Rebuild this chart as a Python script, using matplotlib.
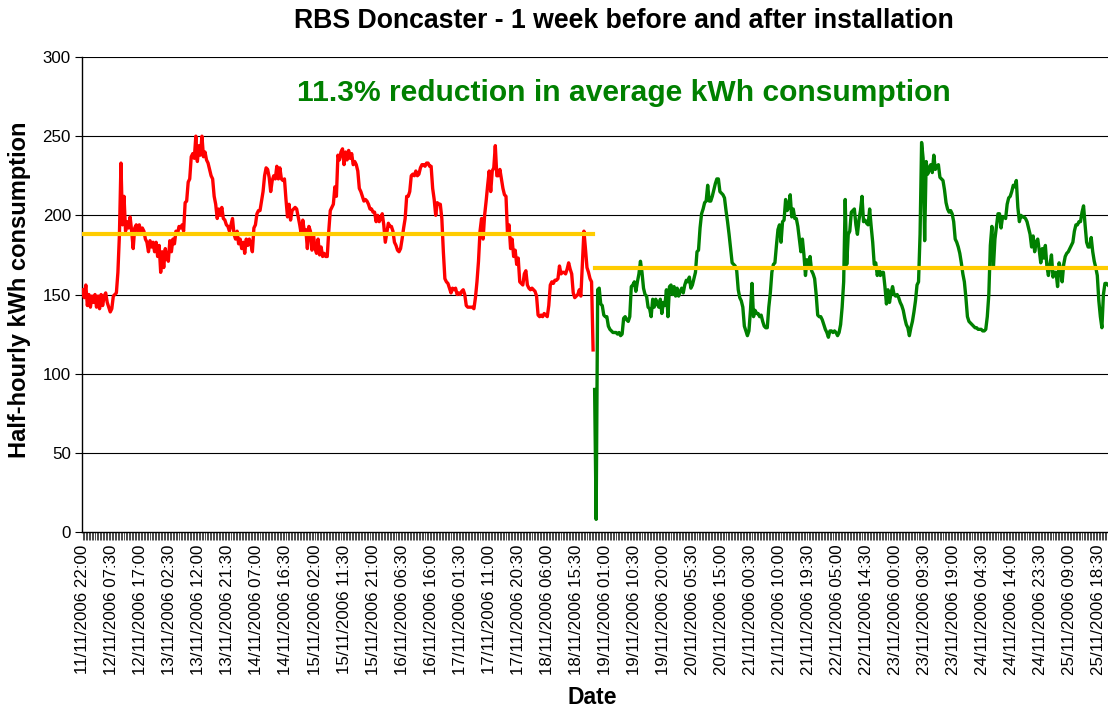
import matplotlib
matplotlib.use("Agg")
import matplotlib.pyplot as plt
import numpy as np
import pandas as pd

plt.rcParams['font.family'] = ['Liberation Sans', 'DejaVu Sans']

# ---- data -------------------------------------------------------------
categories = pd.date_range("2006-11-11 22:00", periods=672, freq="30min")

before = [
    153,148,156,143,150,142,149,145,150,142,149,141,150,143,149,151,145,142,139,141,149,150,151,
    164,188,233,194,212,190,196,192,199,190,179,192,194,190,194,189,192,190,
    185,183,177,184,180,183,177,183,174,181,164,177,167,179,173,171,184,177,185,182,
    190,188,193,192,194,190,208,209,221,223,237,239,236,250,234,244,238,250,237,240,
    235,233,229,225,223,212,207,198,204,200,205,198,197,194,193,190,194,198,188,185,
    190,182,185,179,183,176,185,181,185,182,177,192,
    194,201,203,203,209,215,225,230,229,224,215,222,225,223,231,223,230,223,222,223,
    210,199,207,197,203,204,205,204,199,194,188,197,190,191,179,193,190,178,188,179,
    176,185,175,180,174,176,174,174,190,203,205,207,218,212,238,235,240,242,232,240,
    235,241,236,239,232,234,232,228,217,215,212,209,210,209,207,204,204,202,202,196,
    200,196,198,201,194,183,189,195,193,193,190,183,181,178,177,179,185,192,198,212,
    212,215,225,226,225,228,225,226,230,232,
    232,231,233,233,231,231,217,210,200,208,207,207,198,177,160,158,157,154,151,154,
    153,154,150,151,150,152,153,150,143,142,142,142,142,141,148,158,171,190,198,185,
    200,209,219,228,215,228,230,244,225,225,229,223,217,213,212,188,194,179,185,174,
    178,169,173,158,157,156,163,165,156,154,153,154,153,152,149,137,136,137,136,138,
    137,136,143,156,158,157,159,159,160,168,163,164,164,163,166,170,166,163,151,148,
    149,150,153,149,169,190,179,167,164,160,158,115,
]

after = [
    90, 8, 153,
    154,144,143,137,136,136,130,128,127,126,126,126,125,126,124,125,135,136,134,133,
    136,155,156,158,152,158,163,171,164,154,150,149,142,141,136,147,142,147,144,142,
    147,138,145,143,153,136,155,156,150,155,149,154,149,152,154,151,156,159,158,161,
    154,156,160,164,177,178,192,201,204,208,209,219,209,209,212,216,220,223,223,215,
    214,213,211,203,196,188,179,170,169,168,165,153,148,146,142,130,127,124,127,140,
    157,136,140,138,138,136,137,133,130,
    129,129,142,151,164,169,170,181,191,194,183,196,197,210,203,205,213,199,204,198,
    198,193,185,177,185,175,162,172,168,174,165,163,160,150,137,136,136,134,131,128,
    126,123,127,127,126,127,126,124,126,131,142,158,210,169,188,190,202,203,204,194,
    188,197,203,212,196,197,195,194,204,193,183,169,170,162,167,162,164,164,155,144,
    153,145,151,155,150,149,150,148,145,143,140,135,131,129,124,129,133,139,146,156,
    158,188,246,236,184,234,226,
    230,232,227,238,229,231,232,224,223,222,216,208,204,202,203,201,196,185,183,180,
    176,170,163,158,148,136,133,132,131,130,129,129,128,128,128,127,127,128,136,150,
    181,193,167,185,193,201,201,192,199,199,198,207,211,212,215,219,218,222,205,196,
    200,199,199,198,196,192,188,180,187,177,183,185,178,170,179,173,181,168,162,169,
    175,161,164,164,155,170,166,158,169,174,176,177,179,181,183,190,194,194,196,196,
    202,206,194,183,180,180,186,177,171,167,162,146,136,129,150,157,157,156,
]

before_avg = 188
after_avg = 167

tick_labels = [
    "11/11/2006 22:00", "12/11/2006 07:30", "12/11/2006 17:00", "13/11/2006 02:30",
    "13/11/2006 12:00", "13/11/2006 21:30", "14/11/2006 07:00", "14/11/2006 16:30",
    "15/11/2006 02:00", "15/11/2006 11:30", "15/11/2006 21:00", "16/11/2006 06:30",
    "16/11/2006 16:00", "17/11/2006 01:30", "17/11/2006 11:00", "17/11/2006 20:30",
    "18/11/2006 06:00", "18/11/2006 15:30", "19/11/2006 01:00", "19/11/2006 10:30",
    "19/11/2006 20:00", "20/11/2006 05:30", "20/11/2006 15:00", "21/11/2006 00:30",
    "21/11/2006 10:00", "21/11/2006 19:30", "22/11/2006 05:00", "22/11/2006 14:30",
    "23/11/2006 00:00", "23/11/2006 09:30", "23/11/2006 19:00", "24/11/2006 04:30",
    "24/11/2006 14:00", "24/11/2006 23:30", "25/11/2006 09:00", "25/11/2006 18:30",
]
label_step = 19

title = "RBS Doncaster - 1 week before and after installation"
note = "11.3% reduction in average kWh consumption"

# ---- figure -----------------------------------------------------------
W, H = 1108, 709
fig = plt.figure(figsize=(W / 100, H / 100), dpi=100)
ax = fig.add_axes([82 / W, 1 - 532 / H, (1108 - 82) / W, (532 - 57) / H])

n = len(categories)
x = np.arange(n)
nb = len(before)
xb = x[:nb]
xa = x[nb:nb + len(after)]

for yv in [50, 100, 150, 200, 250, 300]:
    ax.axhline(yv, color="black", lw=0.8, zorder=1)

ax.plot(xb, before, color="#FF0000", lw=2.4, zorder=3, solid_joinstyle="round")
ax.plot(xa, after, color="#008000", lw=2.4, zorder=3, solid_joinstyle="round")
ax.plot([xb[0], xb[-1]], [before_avg, before_avg], color="#FFCC00", lw=3.0, zorder=4)
ax.plot([xa[0], xa[-1]], [after_avg, after_avg], color="#FFCC00", lw=3.0, zorder=4)

ax.set_xlim(-0.5, n - 1.5)
ax.set_ylim(0, 300)
ax.set_yticks(np.arange(0, 301, 50))
ax.tick_params(axis="y", direction="out", length=5, width=0.8, labelsize=12.2, pad=3)

ax.set_xticks(x[::label_step][:len(tick_labels)])
ax.set_xticklabels(tick_labels, rotation=90, fontsize=12.2)
ax.set_xticks(x, minor=True)
ax.tick_params(axis="x", which="both", direction="out", length=6, width=0.5, pad=3)

for s in ["top", "right"]:
    ax.spines[s].set_visible(False)
ax.spines["left"].set_linewidth(1.0)
ax.spines["bottom"].set_linewidth(1.0)

fig.text(624 / W, 1 - 21 / H, title, ha="center", va="center",
         fontsize=19.2, fontweight="bold")
ax.text(624 / W, 1 - 93 / H, note, transform=fig.transFigure, ha="center", va="center",
        fontsize=21.6, fontweight="bold", color="#008000")
fig.text(20 / W, 1 - 290 / H, "Half-hourly kWh consumption", rotation=90,
         ha="center", va="center", fontsize=17, fontweight="bold")
fig.text(592 / W, 1 - 697 / H, "Date", ha="center", va="center",
         fontsize=16.5, fontweight="bold")

fig.savefig("out.png", dpi=100)
